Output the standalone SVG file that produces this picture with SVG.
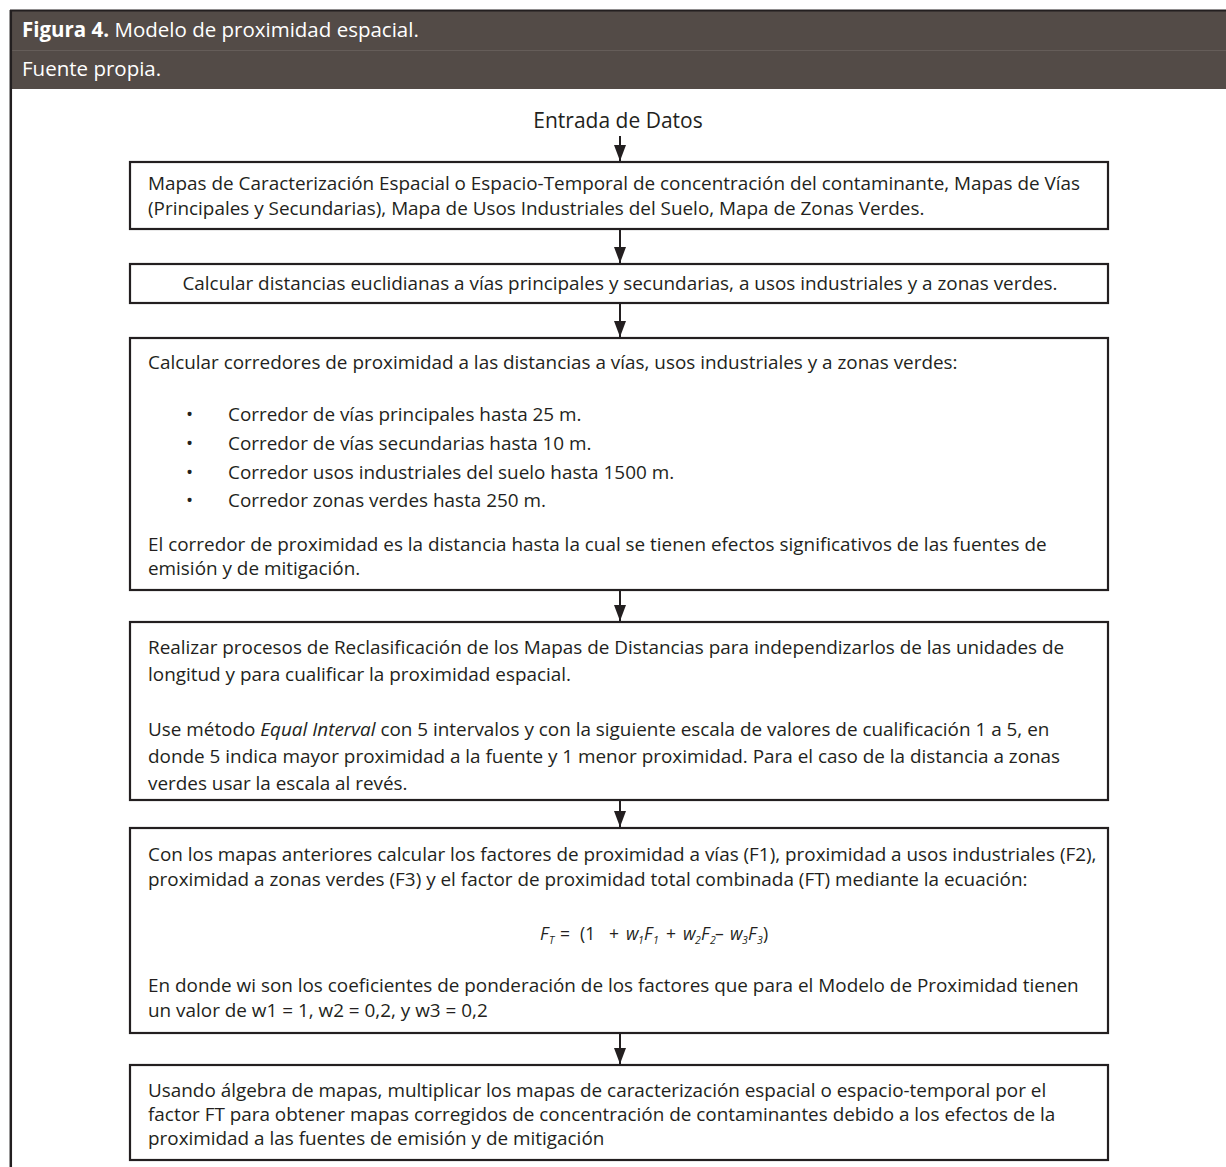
<svg xmlns="http://www.w3.org/2000/svg" width="1226" height="1167" viewBox="0 0 1226 1167">
<defs>
<style>
text{font-family:"Open Sans","Liberation Sans",sans-serif;font-size:18.9px;fill:#231f20}
.hd{fill:#ffffff;font-size:20.5px}
.big{font-size:21px}
.box{fill:#ffffff;stroke:#231f20;stroke-width:2.2}
.conn line{stroke:#231f20;stroke-width:2}
.it{font-style:italic}
.sub{font-size:10.5px;font-style:italic}
.eq{font-size:17.5px}
</style>
<marker id="ah" viewBox="0 0 16 12" refX="16" refY="6" markerWidth="16" markerHeight="12" markerUnits="userSpaceOnUse" orient="auto"><path d="M0,0 L16,6 L0,12 Z" fill="#231f20"/></marker>
</defs>
<rect width="1226" height="1167" fill="#ffffff"/>
<g id="header">
<rect x="10" y="10" width="1216" height="79" fill="#534b47"/>
<line x1="10" y1="10.5" x2="1226" y2="10.5" stroke="#231f20" stroke-width="2"/>
<line x1="10" y1="50.5" x2="1226" y2="50.5" stroke="#655d59" stroke-width="1"/>
<text class="hd" x="22" y="37"><tspan font-weight="bold">Figura 4.</tspan> Modelo de proximidad espacial.</text>
<text class="hd" x="22" y="76">Fuente propia.</text>
<line x1="10.8" y1="10" x2="10.8" y2="1167" stroke="#231f20" stroke-width="2.5"/>
</g>
<g id="start"><text class="big" x="618" y="128" text-anchor="middle">Entrada de Datos</text></g>
<g id="n1">
<rect class="box" x="130" y="162" width="978" height="67"/>
<text x="148" y="190">Mapas de Caracterización Espacial o Espacio-Temporal de concentración del contaminante, Mapas de Vías</text>
<text x="148" y="215">(Principales y Secundarias), Mapa de Usos Industriales del Suelo, Mapa de Zonas Verdes.</text>
</g>
<g id="n2">
<rect class="box" x="130" y="264" width="978" height="39"/>
<text x="620" y="290" text-anchor="middle">Calcular distancias euclidianas a vías principales y secundarias, a usos industriales y a zonas verdes.</text>
</g>
<g id="n3">
<rect class="box" x="130" y="338" width="978" height="252"/>
<text x="148" y="369">Calcular corredores de proximidad a las distancias a vías, usos industriales y a zonas verdes:</text>
<text x="186" y="421">•</text><text x="228" y="421">Corredor de vías principales hasta 25 m.</text>
<text x="186" y="450">•</text><text x="228" y="450">Corredor de vías secundarias hasta 10 m.</text>
<text x="186" y="479">•</text><text x="228" y="479">Corredor usos industriales del suelo hasta 1500 m.</text>
<text x="186" y="507">•</text><text x="228" y="507">Corredor zonas verdes hasta 250 m.</text>
<text x="148" y="551">El corredor de proximidad es la distancia hasta la cual se tienen efectos significativos de las fuentes de</text>
<text x="148" y="575">emisión y de mitigación.</text>
</g>
<g id="n4">
<rect class="box" x="130" y="622" width="978" height="178"/>
<text x="148" y="654">Realizar procesos de Reclasificación de los Mapas de Distancias para independizarlos de las unidades de</text>
<text x="148" y="681">longitud y para cualificar la proximidad espacial.</text>
<text x="148" y="736">Use método <tspan class="it">Equal Interval</tspan> con 5 intervalos y con la siguiente escala de valores de cualificación 1 a 5, en</text>
<text x="148" y="763">donde 5 indica mayor proximidad a la fuente y 1 menor proximidad. Para el caso de la distancia a zonas</text>
<text x="148" y="790">verdes usar la escala al revés.</text>
</g>
<g id="n5">
<rect class="box" x="130" y="828" width="978" height="205"/>
<text x="148" y="861">Con los mapas anteriores calcular los factores de proximidad a vías (F1), proximidad a usos industriales (F2),</text>
<text x="148" y="886">proximidad a zonas verdes (F3) y el factor de proximidad total combinada (FT) mediante la ecuación:</text>
<text class="eq" y="940"><tspan class="it" x="540">F</tspan><tspan class="sub" x="549" y="944">T</tspan><tspan x="560" y="940">=</tspan><tspan x="580">(1</tspan><tspan x="609">+</tspan><tspan class="it" x="626">w</tspan><tspan class="sub" x="638" y="944">1</tspan><tspan class="it" x="644" y="940">F</tspan><tspan class="sub" x="653" y="944">1</tspan><tspan x="666" y="940">+</tspan><tspan class="it" x="683">w</tspan><tspan class="sub" x="695" y="944">2</tspan><tspan class="it" x="701" y="940">F</tspan><tspan class="sub" x="710" y="944">2</tspan><tspan x="715" y="940">–</tspan><tspan class="it" x="730">w</tspan><tspan class="sub" x="742" y="944">3</tspan><tspan class="it" x="748" y="940">F</tspan><tspan class="sub" x="757" y="944">3</tspan><tspan x="763" y="940">)</tspan></text>
<text x="148" y="992">En donde wi son los coeficientes de ponderación de los factores que para el Modelo de Proximidad tienen</text>
<text x="148" y="1017">un valor de w1 = 1, w2 = 0,2, y w3 = 0,2</text>
</g>
<g id="n6">
<rect class="box" x="130" y="1065" width="978" height="95"/>
<text x="148" y="1097">Usando álgebra de mapas, multiplicar los mapas de caracterización espacial o espacio-temporal por el</text>
<text x="148" y="1121">factor FT para obtener mapas corregidos de concentración de contaminantes debido a los efectos de la</text>
<text x="148" y="1145">proximidad a las fuentes de emisión y de mitigación</text>
</g>
<g id="connectors" class="conn">
<line x1="620" y1="136" x2="620" y2="161" marker-end="url(#ah)"/>
<line x1="620" y1="230" x2="620" y2="263" marker-end="url(#ah)"/>
<line x1="620" y1="304" x2="620" y2="337" marker-end="url(#ah)"/>
<line x1="620" y1="591" x2="620" y2="621" marker-end="url(#ah)"/>
<line x1="620" y1="801" x2="620" y2="827" marker-end="url(#ah)"/>
<line x1="620" y1="1034" x2="620" y2="1064" marker-end="url(#ah)"/>
</g>
</svg>
